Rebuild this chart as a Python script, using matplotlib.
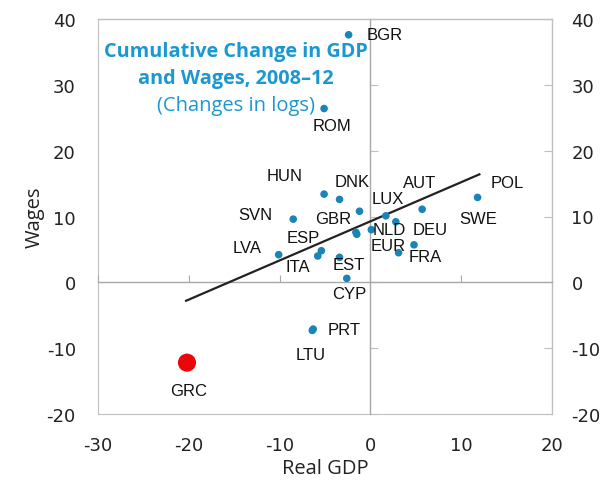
import numpy as np
import matplotlib
matplotlib.use("Agg")
import matplotlib.pyplot as plt

plt.rcParams["axes.unicode_minus"] = False

# Cumulative change 2008-12 (log changes x100)
countries = ["BGR", "ROM", "HUN", "DNK", "LUX", "SVN", "GBR", "", "NLD", "SWE",
             "DEU", "AUT", "POL", "FRA", "EUR", "ESP", "ITA", "LVA", "EST", "CYP",
             "PRT", "LTU"]
real_gdp = [-2.4, -5.1, -5.1, -3.4, -1.2, -8.5, -1.6, -1.5, 0.1, 1.7,
            2.8, 5.7, 11.8, 4.8, 3.1, -5.4, -5.8, -10.1, -3.4, -2.6,
            -6.3, -6.4]
wages = [37.6, 26.4, 13.4, 12.6, 10.8, 9.6, 7.6, 7.3, 8.0, 10.1,
         9.2, 11.1, 12.9, 5.7, 4.5, 4.8, 4.0, 4.2, 3.8, 0.6,
         -7.1, -7.3]

# Greece highlighted
grc_gdp = -20.2
grc_wages = -12.2

# fitted line end points
trend_gdp = [-20.3, 12.0]
trend_wages = [-2.8, 16.4]

x_ticks = [-30, -20, -10, 0, 10, 20]
y_ticks = [-20, -10, 0, 10, 20, 30, 40]

# label centre offsets in pixels (dx, dy) from each dot, dy positive = up
label_offsets = {
    "BGR": (36, 0), "ROM": (8, -17), "HUN": (-39, 19), "DNK": (13, 18),
    "LUX": (28, 13), "SVN": (-38, 5), "GBR": (-23, 14), "NLD": (18, 0),
    "SWE": (92, -3), "DEU": (34, -8), "AUT": (-3, 27), "POL": (30, 15),
    "FRA": (11, -12), "EUR": (-10, 7), "ESP": (-18, 13), "ITA": (-20, -11),
    "LVA": (-32, 7), "EST": (9, -7), "CYP": (2, -15), "PRT": (31, 0),
    "LTU": (-2, -24),
}

DOT = "#1a84b8"
RED = "#e8070b"
TITLE = "#1b98d2"
BOX = "#c0c0c0"
ZERO = "#a8a8a8"
TXT = "#222222"

fig = plt.figure(figsize=(6.1, 4.85), dpi=100)
ax = fig.add_axes([98 / 610, 70 / 485, 454 / 610, 395 / 485])
ax.set_xlim(-30, 20)
ax.set_ylim(-20, 40)
ax.set_xticks(x_ticks)
ax.set_yticks(y_ticks)

# zero lines carry the inner ticks
ax.spines["left"].set_position(("data", 0))
ax.spines["bottom"].set_position(("data", 0))
for side in ["left", "bottom"]:
    ax.spines[side].set_color(ZERO)
    ax.spines[side].set_linewidth(1.0)
for side in ["right", "top"]:
    ax.spines[side].set_color(BOX)
    ax.spines[side].set_linewidth(1.0)
ax.tick_params(axis="x", direction="in", length=5, color=ZERO,
               labelbottom=False)
ax.tick_params(axis="y", direction="in", length=6, color=BOX, left=True,
               right=True, labelleft=False, labelright=True, pad=14,
               labelsize=13, labelcolor=TXT)

# outer box with labels on the left and bottom
sec_y = ax.secondary_yaxis(0)
sec_y.set_yticks(y_ticks)
sec_y.tick_params(length=0, pad=16, labelsize=13, labelcolor=TXT)
sec_y.spines["left"].set_color(BOX)
sec_y.set_ylabel("Wages", fontfamily="Open Sans", fontsize=14.5,
                 color=TXT, labelpad=1)
sec_x = ax.secondary_xaxis(0)
sec_x.set_xticks(x_ticks)
sec_x.tick_params(length=0, pad=16, labelsize=13, labelcolor=TXT)
sec_x.spines["bottom"].set_color(BOX)
sec_x.set_xlabel("Real GDP", fontfamily="Open Sans", fontsize=14.5,
                 color=TXT, labelpad=3)

ax.plot(trend_gdp, trend_wages, color="#222222", linewidth=1.6, zorder=3)
ax.scatter(real_gdp, wages, s=30, color=DOT, edgecolors="none", zorder=4)
ax.scatter([grc_gdp], [grc_wages], s=170, color=RED, edgecolors="none",
           zorder=4)

for name, gx, wy in zip(countries, real_gdp, wages):
    if name not in label_offsets:
        continue
    dx, dy = label_offsets[name]
    ax.annotate(name, (gx, wy), xytext=(dx, dy), textcoords="offset pixels",
                ha="center", va="center", fontsize=12,
                fontfamily="Liberation Sans", color="#111111", zorder=5)
ax.annotate("GRC", (grc_gdp, grc_wages), xytext=(2, -28),
            textcoords="offset pixels", ha="center", va="center",
            fontsize=12, fontfamily="Liberation Sans", color="#111111")

ax.text(0.304, 0.918, "Cumulative Change in GDP", transform=ax.transAxes,
        ha="center", va="center", fontsize=14.3, fontweight="bold",
        fontfamily="Open Sans", color=TITLE)
ax.text(0.304, 0.851, "and Wages, 2008\u201312", transform=ax.transAxes,
        ha="center", va="center", fontsize=14.3, fontweight="bold",
        fontfamily="Open Sans", color=TITLE)
ax.text(0.304, 0.783, "(Changes in logs)", transform=ax.transAxes,
        ha="center", va="center", fontsize=14.5, fontfamily="Open Sans",
        color=TITLE)

fig.savefig("out.png", dpi=100)
